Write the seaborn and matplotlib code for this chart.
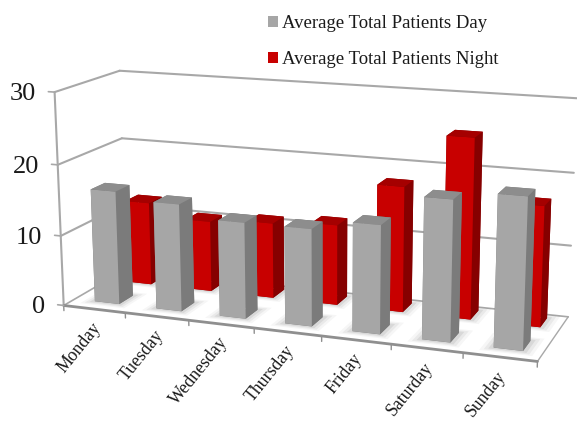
import numpy as np
import matplotlib
matplotlib.use("Agg")
import matplotlib.pyplot as plt
from matplotlib.patches import Patch
from mpl_toolkits.mplot3d import proj3d
from mpl_toolkits.mplot3d.art3d import Poly3DCollection
import seaborn as sns

# Average patient counts per weekday
days = ["Monday", "Tuesday", "Wednesday", "Thursday", "Friday", "Saturday", "Sunday"]
day_patients = [16.1, 15.1, 13.4, 13.4, 14.8, 19.0, 20.2]
night_patients = [12.1, 10.2, 10.8, 11.4, 17.6, 25.0, 16.6]
series_names = ["Average Total Patients Day", "Average Total Patients Night"]
z_ticks = [0, 10, 20, 30]

sns.set_theme(style="white")
plt.rcParams["font.family"] = ["Liberation Serif", "DejaVu Serif"]

GREY = ("#a6a6a6", "#7b7b7b", "#8d8d8d")   # front, side, top
RED = ("#c80000", "#860000", "#a50000")
LINE = "#a8a8a8"
TEXT = "#1a1a1a"

fig = plt.figure(figsize=(5.77, 4.21), dpi=100, facecolor="white")
ax = fig.add_axes([0.05715, -0.15086, 0.94350, 1.29312], projection="3d")
ax.set_xlim(0, 7, view_margin=0)
ax.set_ylim(0, 1, view_margin=0)
ax.set_zlim(0, 30, view_margin=0)
ax.set_box_aspect((1, 0.2840, 0.4495))
ax.view_init(14.066, -69.516, 0.140)
ax.set_proj_type("persp", focal_length=0.5358)
ax.set_axis_off()
ax.patch.set_alpha(0)
ax.computed_zorder = False

order = 1


def line3d(xs, ys, zs, lw=1.5, color=LINE):
    global order
    ax.plot(xs, ys, zs, color=color, lw=lw, zorder=order, solid_capstyle="round")
    order += 1


# Wall gridlines and axis frame
for z in z_ticks[1:]:
    line3d([0, 0], [0, 1], [z, z])
    line3d([0, 7], [1, 1], [z, z])
line3d([0, 0], [0, 0], [0, 30])
line3d([0, 0], [0, 1], [0, 0], lw=1.2)
line3d([0, 7], [1, 1], [0, 0], lw=1.2)
line3d([7, 7], [0, 1], [0, 0], lw=1.0)
line3d([0, 7], [0, 0], [0, 0], lw=2.0, color="#8f8f8f")
for i in range(8):
    line3d([i, i], [0, 0], [0, -0.75], lw=1.0, color="#8f8f8f")
for z in z_ticks:
    line3d([0, -0.1], [0, 0], [z, z], lw=1.2)


def floor_shadow(x0, x1, y0, y1):
    """Soft layered shadow lying on the floor around a column's footprint."""
    global order
    for grow, alpha in ((0.16, 0.035), (0.11, 0.05), (0.06, 0.07)):
        gy = grow * 0.5
        quad = [[(x0 - grow, y0 - gy, 0), (x1 + grow, y0 - gy, 0),
                 (x1 + grow, y1 + gy, 0), (x0 - grow, y1 + gy, 0)]]
        ax.add_collection3d(Poly3DCollection(quad, facecolor="black", edgecolor="none",
                                             alpha=alpha, zorder=order))
        order += 1


def column(x, y, dx, dy, height, shades):
    global order
    front, side, top = shades
    # bar3d face order: bottom, top, -y, +y, -x, +x
    colors = [side, top, front, side, side, side]
    ax.bar3d([x], [y], [0], [dx], [dy], [height], color=colors, shade=False,
             zsort="max", zorder=order, edgecolor="none")
    order += 1


def label_at(x, y, z, text, **kwargs):
    """Place flat text at the projected position of a 3D point."""
    tx, ty, _ = proj3d.proj_transform(x, y, z, ax.get_proj())
    ax.text2D(tx, ty, text, transform=ax.transData, color=TEXT, zorder=order, **kwargs)


BAR_X = 0.33
BAR_W = 0.40
ROWS = {"day": (0.17, 0.22), "night": (0.70, 0.22)}

for i in range(len(days)):
    y0, dy = ROWS["night"]
    floor_shadow(i + BAR_X, i + BAR_X + BAR_W, y0, y0 + dy)
for i, v in enumerate(night_patients):
    y0, dy = ROWS["night"]
    column(i + BAR_X, y0, BAR_W, dy, v, RED)
for i in range(len(days)):
    y0, dy = ROWS["day"]
    floor_shadow(i + BAR_X, i + BAR_X + BAR_W, y0, y0 + dy)
for i, v in enumerate(day_patients):
    y0, dy = ROWS["day"]
    column(i + BAR_X, y0, BAR_W, dy, v, GREY)

# Axis labels
for z in z_ticks:
    label_at(-0.31, 0, z - 0.5, str(z), ha="right", va="center", fontsize=19)
for i, name in enumerate(days):
    label_at(i + 0.45, 0, -1.5, name, rotation=51, rotation_mode="anchor",
             ha="right", va="top", fontsize=12.8)

handles = [Patch(color=GREY[0], lw=0), Patch(color=RED[0], lw=0)]
fig.legend(handles, series_names, loc="upper left", bbox_to_anchor=(0.4645, 0.964),
           frameon=False, fontsize=13.5, labelspacing=1.0, handlelength=0.55,
           handleheight=0.55, handletextpad=0.2, labelcolor=TEXT,
           borderpad=0, borderaxespad=0)

fig.savefig("out.png", dpi=100, facecolor="white")
